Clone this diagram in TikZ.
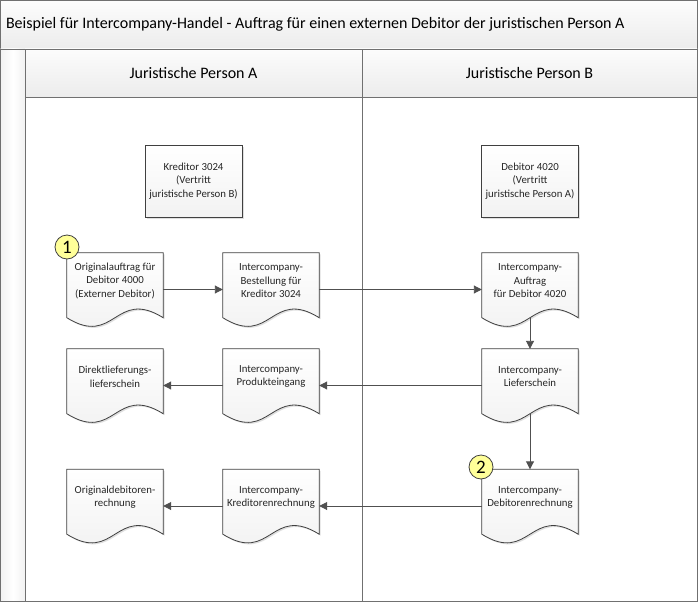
\documentclass[tikz,border=0pt]{standalone}
\usepackage{fontspec}
\setmainfont{Carlito}
\usetikzlibrary{shadows,calc,arrows.meta}
\definecolor{framec}{HTML}{707070}
\definecolor{shapec}{HTML}{404040}
\definecolor{flowc}{HTML}{505050}
\definecolor{hdrtop}{HTML}{FCFCFC}
\definecolor{hdrbot}{HTML}{ECECEC}
\definecolor{badgec}{HTML}{FFFF99}
\begin{document}
\begin{tikzpicture}[x=1pt,y=-1pt,
  framebox/.style={draw=framec, line width=0.9pt},
  hdr/.style={framebox, top color=hdrtop, bottom color=hdrbot},
  hdrtext/.style={font=\fontsize{16}{18}\selectfont, text=black},
  lbl/.style={font=\fontsize{10.8}{13.3}\selectfont, align=center, text=black!85},
  docbox/.style={minimum width=96pt, minimum height=73pt, inner sep=0pt},
  shadowed/.style={drop shadow={shadow xshift=1.5pt, shadow yshift=-1.5pt, opacity=0.25}},
  procbox/.style={draw=shapec, line width=0.8pt, top color=white, bottom color=gray!10,
    minimum width=97pt, minimum height=72pt, inner sep=0pt, lbl, shadowed},
  docline/.style={draw=shapec, line width=0.8pt, top color=white, bottom color=gray!12, shadowed},
  flow/.style={draw=flowc, line width=0.9pt, -{Triangle[length=8pt,width=8pt]}},
  badgestyle/.style={circle, draw=shapec, line width=0.8pt, fill=badgec, minimum size=24pt,
    inner sep=0pt, font=\fontsize{19}{19}\selectfont}
]
\useasboundingbox (0,0) rectangle (698,602);
% frame
\path[hdr] (0.5,0.5) rectangle (697,49);
\path[framebox, left color=gray!10, right color=gray!10, middle color=white] (0.5,49) rectangle (25,601);
\path[hdr] (25,49) rectangle (362,97);
\path[hdr] (362,49) rectangle (697,97);
\path[framebox, fill=white] (25,97) rectangle (362,601);
\path[framebox, fill=white] (362,97) rectangle (697,601);
\node[hdrtext, anchor=west] (title) at (2.5,24) {Beispiel für Intercompany-Handel - Auftrag für einen externen Debitor der juristischen Person A};
\node[hdrtext] (laneA) at (193.5,73) {Juristische Person A};
\node[hdrtext] (laneB) at (529.5,73) {Juristische Person B};
% process boxes
\node[procbox] (k1) at (193.5,181) {Kreditor 3024\\(Vertritt\\juristische Person B)};
\node[procbox] (k2) at (530,181) {Debitor 4020\\(Vertritt\\juristische Person A)};
% document frames
\node[docbox] (d1) at (115,289.5) {};
\node[docbox] (d2) at (271,289.5) {};
\node[docbox] (d3) at (530,289.5) {};
\node[docbox] (d4) at (115,385.5) {};
\node[docbox] (d5) at (271,385.5) {};
\node[docbox] (d6) at (530,385.5) {};
\node[docbox] (d7) at (115,506) {};
\node[docbox] (d8) at (271,506) {};
\node[docbox] (d9) at (530,506) {};
\foreach \n in {d1,d2,d3,d4,d5,d6,d7,d8,d9}{
  \path[docline] (\n.north west) -- (\n.north east) -- ($(\n.south east)+(0,-8.5)$)
    .. controls ($(\n.south)+(0,-38.5)$) and ($(\n.south)+(0,21.5)$) .. ($(\n.south west)+(0,-8.5)$) -- cycle;
}
\node[lbl] (t1) at ($(d1.north)+(0,28)$) {Originalauftrag für\\Debitor 4000\\(Externer Debitor)};
\node[lbl] (t2) at ($(d2.north)+(0,28)$) {Intercompany-\\Bestellung für\\Kreditor 3024};
\node[lbl] (t3) at ($(d3.north)+(0,28)$) {Intercompany-\\Auftrag\\für Debitor 4020};
\node[lbl] (t4) at ($(d4.north)+(0,28)$) {Direktlieferungs-\\lieferschein};
\node[lbl] (t5) at ($(d5.north)+(0,28)$) {Intercompany-\\Produkteingang};
\node[lbl] (t6) at ($(d6.north)+(0,28)$) {Intercompany-\\Lieferschein};
\node[lbl] (t7) at ($(d7.north)+(0,28)$) {Originaldebitoren-\\rechnung};
\node[lbl] (t8) at ($(d8.north)+(0,28)$) {Intercompany-\\Kreditorenrechnung};
\node[lbl] (t9) at ($(d9.north)+(0,28)$) {Intercompany-\\Debitorenrechnung};
% connectors
\draw[flow] (d1.east) -- (d2.west);
\draw[flow] (d2.east) -- (d3.west);
\draw[flow] ($(d3.south)+(0,-8.5)$) -- (d6.north);
\draw[flow] ($(d6.south)+(0,-8.5)$) -- (d9.north);
\draw[flow] (d6.west) -- (d5.east);
\draw[flow] (d5.west) -- (d4.east);
\draw[flow] (d9.west) -- (d8.east);
\draw[flow] (d8.west) -- (d7.east);
% badges
\node[badgestyle] (b1) at (67,247) {1};
\node[badgestyle] (b2) at (481,467) {2};
\end{tikzpicture}
\end{document}
